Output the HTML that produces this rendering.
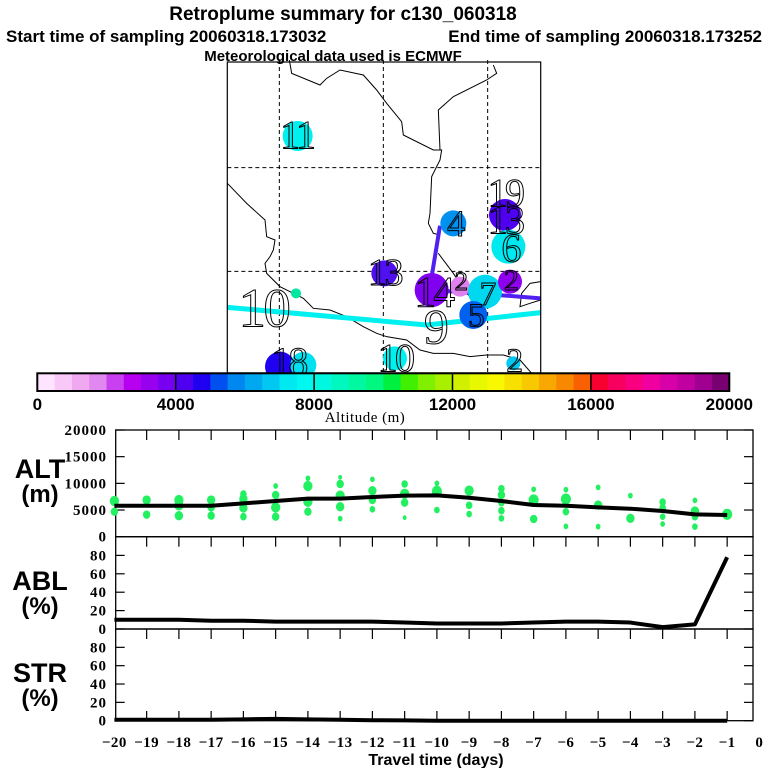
<!DOCTYPE html>
<html><head><meta charset="utf-8"><style>
body{margin:0;background:#fff;}
svg{display:block;}
</style></head><body>
<svg id="chart" width="768" height="768" viewBox="0 0 768 768" xmlns="http://www.w3.org/2000/svg">
<rect width="768" height="768" fill="#fff"/>
<g font-family="Liberation Sans, sans-serif" font-weight="bold" fill="#000">
<text x="343" y="20" font-size="19" text-anchor="middle">Retroplume summary for c130_060318</text>
<text x="6" y="42" font-size="17">Start time of sampling 20060318.173032</text>
<text x="762" y="42" font-size="17" text-anchor="end">End time of sampling 20060318.173252</text>
<text x="333" y="61" font-size="15" text-anchor="middle">Meteorological data used is ECMWF</text>
</g>
<g id="map"></g>
<g id="cbar"></g>
<g id="panels"></g>
</svg>
<script>
const NS='http://www.w3.org/2000/svg';
function mk(parent,tag,attrs,text){const e=document.createElementNS(NS,tag);for(const k in attrs)e.setAttribute(k,attrs[k]);if(text!==undefined)e.textContent=text;parent.appendChild(e);return e;}

// ---------- data ----------
const days=[-20,-19,-18,-17,-16,-15,-14,-13,-12,-11,-10,-9,-8,-7,-6,-5,-4,-3,-2,-1];
const altMean=[5810,5810,5810,5810,6250,6690,7130,7130,7440,7690,7750,7310,6690,5940,5810,5500,5250,4810,4190,4060];
const ablPct=[10,10,10,9,9,8,8,8,8,7,6,6,6,7,8,8,7,2,5,78];
const strPct=[1,1,1,1,1.5,2,1.5,1,0.5,0.3,0,0,0,0,0,0,0,0,0,0];
const dotDay=[-20,-20,-19,-19,-18,-18,-18,-17,-17,-17,-16,-16,-16,-16,-15,-15,-15,-15,-14,-14,-14,-14,-13,-13,-13,-13,-13,-12,-12,-12,-12,-11,-11,-11,-11,-10,-10,-10,-9,-9,-9,-8,-8,-8,-8,-8,-7,-7,-7,-6,-6,-6,-6,-5,-5,-5,-4,-4,-3,-3,-3,-3,-2,-2,-2,-2,-1];
const dotAlt=[6690,4690,6880,4130,6880,5880,3940,6880,5500,3940,8000,7060,5380,3750,9500,7810,5500,3750,10940,9500,6560,4690,11130,9880,7690,5630,3380,10750,8630,6880,5130,9880,8060,6380,3560,10000,8500,5000,8630,5880,4250,9000,7810,6380,4880,3440,8880,6880,3310,8810,7060,4690,1940,9250,5940,1880,7690,3440,6500,5440,3750,2380,6810,4810,3750,1880,4190];
const dotSize=[8,6,7,6,8,8,7,7,6,6,5,7,7,5,3,6,8,6,3,8,8,6,2,6,8,7,3,3,7,6,4,5,8,6,2,3,9,4,8,5,4,5,6,5,5,4,3,9,6,3,9,5,3,3,7,3,3,7,5,5,4,3,3,7,5,4,9];
const altTicks=[0,5000,10000,15000,20000];
const pctTicks=[0,20,40,60,80];
const cbarTicks=[0,4000,8000,12000,16000,20000];
const cbarColors=['#ffe4ff','#f8c8f8','#f0a8f0','#e088f0','#c840f0','#b800f0','#9800f0','#7800f0','#5000f0','#2000f0','#0050f0','#0088f0','#00a8f0','#00c8f0','#00e8f0','#00f8f0','#00f8e0','#00f8c0','#00f8a0','#00f880','#00f040','#40f000','#80f000','#a8f000','#d0f000','#e8f800','#f8f800','#f8e000','#f8c800','#f8a800','#f88800','#f86000','#f80030','#f80060','#f80080','#f000a0','#d800a8','#c000a0','#a00090','#780070'];

// ---------- map (coords in 3x zoom space) ----------
const map=document.getElementById('map');
const mg=mk(map,'g',{transform:'translate(220,60) scale(0.33333)'});
const coastA=[[208,0],[215,40],[300,75],[320,55],[360,30],[430,45],[470,90],[500,130],[545,185],[550,225],[640,270],[665,270],[660,300],[635,350],[630,460],[625,490],[640,520],[660,525]];
const coastA2=[[660,270],[655,150],[700,110],[800,60],[830,40],[820,15]];
const coastA3=[[655,580],[700,640],[740,700],[760,720]];
const coastB=[[22,370],[80,430],[135,480],[140,530],[165,540],[160,570],[150,590],[135,610],[140,640],[180,680],[220,700],[250,715],[280,745],[330,750],[380,770],[430,800],[470,820],[500,830],[560,840],[600,870],[640,880],[700,880],[750,890],[800,885],[850,885],[900,900],[935,940]];
const coastC=[[962,665],[930,670],[905,700],[900,740],[930,730],[962,720]];
[coastA,coastA2,coastA3,coastB,coastC].forEach((c,i)=>{
  const p=mk(mg,'polyline',{points:c.map(q=>q.join(',')).join(' '),fill:'none',stroke:'#000','stroke-width':3});
  
  
});
[178,490,803].forEach(x=>{const l=mk(mg,'line',{x1:x,y1:0,x2:x,y2:940,stroke:'#000','stroke-width':3,'stroke-dasharray':'12,9'});});
[323,634].forEach(y=>{const l=mk(mg,'line',{x1:22,y1:y,x2:962,y2:y,stroke:'#000','stroke-width':3,'stroke-dasharray':'12,9'});});
let t=mk(mg,'polyline',{points:'22,742 620,795 962,758',fill:'none',stroke:'#00f0f0','stroke-width':15});

t=mk(mg,'polyline',{points:'660,497 635,650 640,690 962,715',fill:'none',stroke:'#5020f0','stroke-width':12});

const clX=[233,700,855,865,493,635,720,795,870,760,228,525,180,250,880];
const clY=[228,490,465,560,640,690,680,695,665,765,700,895,920,915,910];
const clR=[45,39,48,51,39,51,30,51,36,42,15,36,45,39,21];
const clC=['#00f0f0','#0090f0','#5000f0','#00e8f0','#5010f0','#8000f0','#e080f0','#00d8f0','#9000f0','#0060f0','#00e8a0','#00f0f0','#2000f0','#00e0f0','#00c8f0'];
clX.forEach((x,i)=>{const c=mk(mg,'circle',{cx:x,cy:clY[i],r:clR[i],fill:clC[i]});});
const lbT=['11','4','19','13','6','13','14','2','7','2','5','10','9','10','18','2'];
const lbX=[230,705,855,855,870,493,640,720,800,870,765,130,645,525,205,880];
const lbY=[265,528,440,520,605,675,740,690,735,690,800,800,850,935,945,935];
const lbS=[120,110,120,120,120,115,130,80,100,90,100,165,150,120,120,100];
lbT.forEach((s,i)=>{const e=mk(mg,'text',{x:lbX[i],y:lbY[i],'font-size':lbS[i],'font-family':'Liberation Serif, serif','text-anchor':'middle',fill:'none',stroke:'#000','stroke-width':3,'letter-spacing':'-8'},s);});
mk(map,'rect',{x:227.3,y:62,width:313.4,height:311,fill:'none',stroke:'#000','stroke-width':1.2});

// ---------- colorbar ----------
const cb=document.getElementById('cbar');
const cbL=37.3,cbR=729.3,cbT=373.3,cbB=391;
const cx=v=>cbL+(cbR-cbL)*v/20000;
cbarColors.forEach((c,i)=>{const r=mk(cb,'rect',{x:cx(i*500),y:cbT,width:cx(500)-cx(0)+0.4,height:cbB-cbT,fill:c});});
mk(cb,'rect',{x:cbL,y:cbT,width:cbR-cbL,height:cbB-cbT,fill:'none',stroke:'#000','stroke-width':2});
cbarTicks.forEach(v=>{
  if(v>0&&v<20000)mk(cb,'line',{x1:cx(v),y1:cbT,x2:cx(v),y2:cbB,stroke:'#000','stroke-width':1.5});
  const e=mk(cb,'text',{x:cx(v),y:410,'font-size':17,'font-weight':'bold','font-family':'Liberation Sans, sans-serif','text-anchor':'middle'},String(v));
  
});
let at=mk(cb,'text',{x:365,y:422,'font-size':15,'font-family':'Liberation Serif, serif','text-anchor':'middle','letter-spacing':'0.5'},'Altitude (m)');


// ---------- time series ----------
const P=document.getElementById('panels');
const fL=115.7,fR=753;
const xs=d=>759.4+32.25*d;
const altY=v=>536.7-v*(106.7/20000);
const ablY=v=>629-v*0.92;
const strY=v=>720.7-v*0.917;
const panels=[{top:430,bot:536.7,ticks:altTicks,y:altY,name:'alt'},{top:536.7,bot:629,ticks:pctTicks,y:ablY,name:'abl'},{top:629,bot:720.7,ticks:pctTicks,y:strY,name:'str'}];
panels.forEach(p=>{
  const r=mk(P,'rect',{x:fL,y:p.top,width:fR-fL,height:p.bot-p.top,fill:'none',stroke:'#000','stroke-width':1.3});
  
  p.ticks.forEach(v=>{
    const y=p.y(v);
    mk(P,'line',{x1:fL,y1:y,x2:fL+9,y2:y,stroke:'#000','stroke-width':1.2});
    mk(P,'line',{x1:fR-9,y1:y,x2:fR,y2:y,stroke:'#000','stroke-width':1.2});
    const e=mk(P,'text',{x:107,y:y+5,'font-size':15,'font-weight':'bold','font-family':'Liberation Serif, serif','text-anchor':'end','letter-spacing':'1'},String(v));
    
  });
  days.forEach(d=>{if(d>-20)mk(P,'line',{x1:xs(d),y1:p.top,x2:xs(d),y2:p.top+10,stroke:'#000','stroke-width':1.2});});
});
days.forEach(d=>{if(d>-20)mk(P,'line',{x1:xs(d),y1:720.7,x2:xs(d),y2:711,stroke:'#000','stroke-width':1.2});});
dotDay.forEach((d,i)=>{const c=mk(P,'ellipse',{cx:xs(d),cy:altY(dotAlt[i]),rx:dotSize[i]/2.2+1,ry:dotSize[i]/2.2+1.5,fill:'#22f060'});});
function line(vals,yf,name){const pl=mk(P,'polyline',{points:days.map((d,i)=>xs(d)+','+yf(vals[i])).join(' '),fill:'none',stroke:'#000','stroke-width':4,'stroke-linejoin':'round'});}
line(altMean,altY,'alt-mean-line');line(ablPct,ablY,'abl-line');line(strPct,strY,'str-line');
const lab=[['ALT',478],['(m)',502],['ABL',590],['(%)',614],['STR',682],['(%)',706]];
lab.forEach(l=>{const e=mk(P,'text',{x:40,y:l[1],'font-size':l[0].startsWith('(')?24:27,'font-weight':'bold','font-family':'Liberation Sans, sans-serif','text-anchor':'middle'},l[0]);});
days.concat([0]).forEach(d=>{const e=mk(P,'text',{x:xs(d),y:747,'font-size':15,'font-weight':'bold','font-family':'Liberation Serif, serif','text-anchor':'middle','letter-spacing':'0.5'},d<0?'\u2212'+(-d):'0');});
let xt=mk(P,'text',{x:436,y:765,'font-size':16,'font-weight':'bold','font-family':'Liberation Sans, sans-serif','text-anchor':'middle'},'Travel time (days)');

</script>
</body></html>
